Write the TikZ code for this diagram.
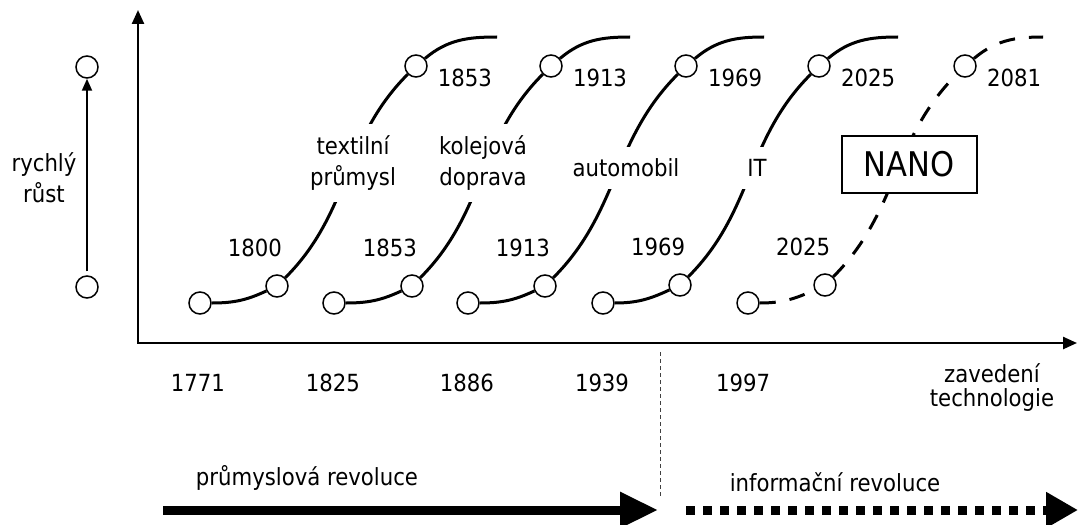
\documentclass[tikz,border=0pt]{standalone}
\usepackage{fontspec}
\setmainfont{DejaVu Sans Condensed}
\usepackage{tikz}
\usetikzlibrary{arrows.meta}

\begin{document}
\begin{tikzpicture}[x=0.5pt,y=0.5pt,
	every node/.style={font=\fontsize{11.8}{15.5}\selectfont},
	dot/.style={shape=circle,draw=black,fill=white,line width=0.75pt,minimum size=11pt,inner sep=0pt},
	wave/.style={line width=1.5pt},
	era/.style={fill=white,align=center,inner sep=6pt},
	axis/.style={line width=1.2pt,{Triangle[length=7pt,width=6pt]}-{Triangle[length=7pt,width=6pt]}}]
			\useasboundingbox (0,0) rectangle (1079,-524);
			% axes
			\coordinate (ytop) at (138,-10);
			\coordinate (o) at (138,-343);
			\coordinate (xend) at (1077,-343);
			\draw[axis] (ytop) -- (o) -- (xend);
			
			% growth arrow on the left
			\node[dot] (g-lo) at (87,-287) {};
			\node[dot] (g-hi) at (87,-67) {};
			\draw[line width=1pt,-{Triangle[length=6pt,width=5pt]},shorten <=2pt] (g-lo) -- (g-hi);
			\node[align=center] (g-lab) at (44,-178) {rychlý\\růst};
			
			% textile
			\node[dot] (t1-a) at (200,-303) {};
			\node[dot] (t1-b) at (277,-286) {};
			\node[dot] (t1-c) at (416,-66) {};
			\coordinate (t1-d) at (497,-37);
			\path[wave](t1-a) edge[out=0,in=205] (t1-b);
			\path[wave](t1-b) edge[out=45,in=225] (t1-c);
			\path[wave](t1-c) edge[out=40,in=180] (t1-d);
			
			% railway
			\node[dot] (t2-a) at (334,-303) {};
			\node[dot] (t2-b) at (412,-286) {};
			\node[dot] (t2-c) at (551,-66) {};
			\coordinate (t2-d) at (630,-37);
			\path[wave](t2-a) edge[out=0,in=205] (t2-b);
			\path[wave](t2-b) edge[out=45,in=225] (t2-c);
			\path[wave](t2-c) edge[out=40,in=180] (t2-d);
			
			% car
			\node[dot] (t3-a) at (468,-303) {};
			\node[dot] (t3-b) at (545,-286) {};
			\node[dot] (t3-c) at (686,-66) {};
			\coordinate (t3-d) at (764,-37);
			\path[wave](t3-a) edge[out=0,in=205] (t3-b);
			\path[wave](t3-b) edge[out=45,in=225] (t3-c);
			\path[wave](t3-c) edge[out=40,in=180] (t3-d);
			
			% IT
			\node[dot] (t4-a) at (603,-303) {};
			\node[dot] (t4-b) at (680,-285) {};
			\node[dot] (t4-c) at (819,-66) {};
			\coordinate (t4-d) at (898,-37);
			\path[wave](t4-a) edge[out=0,in=205] (t4-b);
			\path[wave](t4-b) edge[out=45,in=225] (t4-c);
			\path[wave](t4-c) edge[out=40,in=180] (t4-d);
			
			% nano (dashed)
			\node[dot] (t5-a) at (748,-303) {};
			\node[dot] (t5-b) at (825,-285) {};
			\node[dot] (t5-c) at (965,-66) {};
			\coordinate (t5-d) at (1043,-37);
			\path[wave,dash pattern=on 8pt off 7pt](t5-a) edge[out=0,in=205] (t5-b);
			\path[wave,dash pattern=on 8pt off 7pt](t5-b) edge[out=45,in=225] (t5-c);
			\path[wave,dash pattern=on 8pt off 7pt](t5-c) edge[out=40,in=180] (t5-d);
			
			% labels on the curves
			\node[era] (l1) at (353,-163) {textilní\\průmysl};
			\node[era] (l2) at (483,-163) {kolejová\\doprava};
			\node[era] (l3) at (626,-168) {automobil};
			\node[era] (l4) at (757,-168) {IT};
			\node[draw=black,line width=1pt,fill=white,minimum width=67.5pt,minimum height=28.5pt,font=\fontsize{17}{20}\selectfont] (nano) at (909,-164) {NANO};
			
			% years on the curves
			\node (y1-b) at (255,-248) {1800};
			\node (y2-b) at (390,-248) {1853};
			\node (y3-b) at (523,-248) {1913};
			\node (y4-b) at (658,-247) {1969};
			\node (y5-b) at (803,-247) {2025};
			\node (y1-c) at (465,-78) {1853};
			\node (y2-c) at (600,-78) {1913};
			\node (y3-c) at (735,-78) {1969};
			\node (y4-c) at (868,-78) {2025};
			\node (y5-c) at (1014,-78) {2081};
			
			% years on the axis
			\node (x1) at (198,-383) {1771};
			\node (x2) at (333,-383) {1825};
			\node (x3) at (467,-383) {1886};
			\node (x4) at (602,-383) {1939};
			\node (x5) at (743,-383) {1997};
			\node[align=center,font=\fontsize{11.8}{12}\selectfont] (x-lab) at (992,-388) {zavedení\\technologie};
			
			% revolutions
			\coordinate (sep-a) at (660,-352);
			\coordinate (sep-b) at (660,-498);
			\draw[line width=0.5pt,dash pattern=on 2pt off 1.5pt,black!75] (sep-a) -- (sep-b);
			\coordinate (ind-a) at (163,-510);
			\coordinate (ind-b) at (658,-510);
			\draw[line width=4.5pt,-{Triangle[length=19pt,width=17pt]}] (ind-a) -- (ind-b);
			\node (ind-lab) at (307,-478) {průmyslová revoluce};
			\coordinate (inf-a) at (686,-510);
			\coordinate (inf-b) at (1078,-510);
			\draw[line width=4.5pt,dash pattern=on 4.5pt off 4pt,-{Triangle[length=16pt,width=17pt]}] (inf-a) -- (inf-b);
			\node (inf-lab) at (835,-482) {informační revoluce};
\end{tikzpicture}
\end{document}
